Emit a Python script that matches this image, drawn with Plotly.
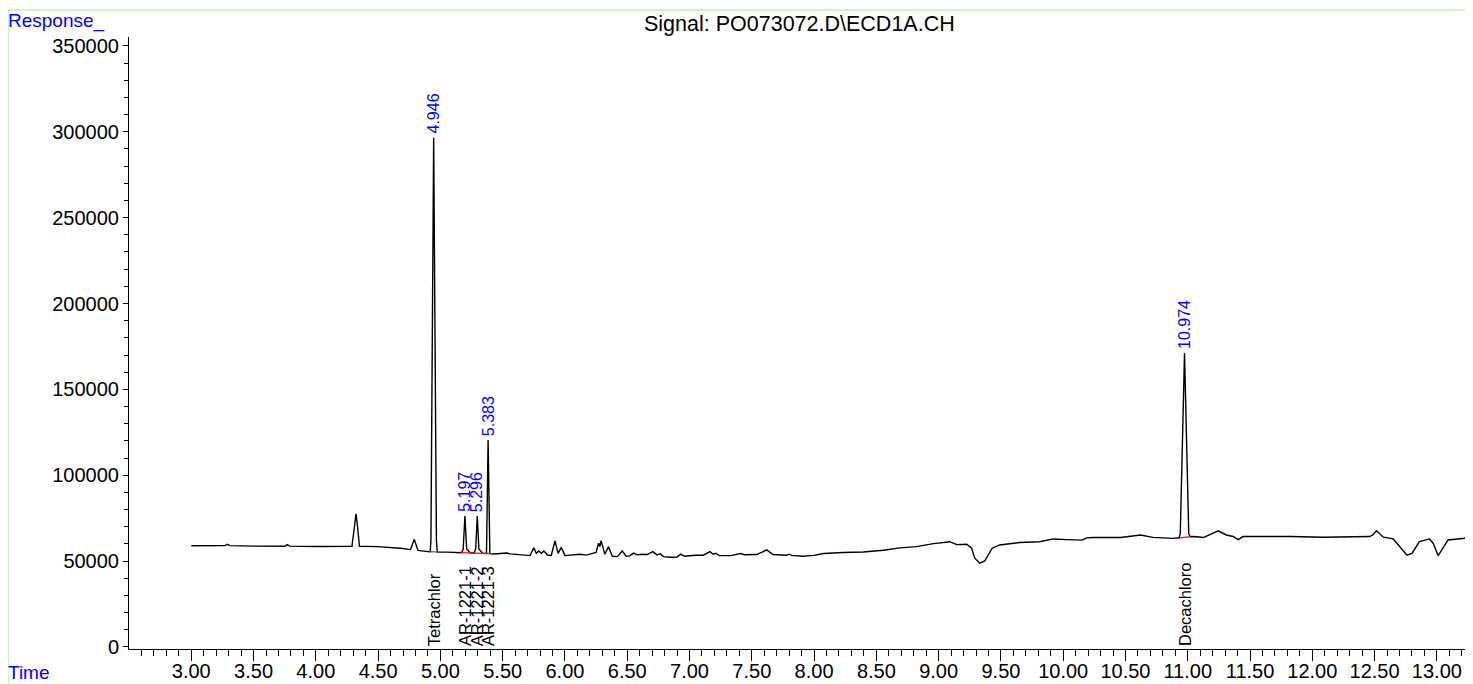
import plotly.graph_objects as go

# ---- signal trace (time in min, response) ----
TIME = [3.00, 3.15, 3.27, 3.29, 3.31, 3.50, 3.65, 3.75, 3.77, 3.79, 4.00, 4.20, 4.29, 4.31, 4.322, 4.335, 4.35,
        4.50, 4.60, 4.70, 4.76, 4.78, 4.79, 4.80, 4.82, 4.90, 4.918, 4.924, 4.946, 4.968, 4.975,
        5.05, 5.13, 5.17, 5.183, 5.197, 5.211, 5.24, 5.27, 5.283, 5.296, 5.309, 5.34, 5.37, 5.383, 5.397,
        5.43, 5.50, 5.53, 5.56, 5.65, 5.72, 5.75, 5.77, 5.79, 5.81, 5.83, 5.86, 5.89, 5.92, 5.945, 5.97,
        6.00, 6.07, 6.12, 6.17, 6.21, 6.25, 6.27, 6.28, 6.29, 6.32, 6.35, 6.38, 6.42, 6.46, 6.49, 6.52,
        6.55, 6.58, 6.62, 6.66, 6.705, 6.74, 6.765, 6.79, 6.85, 6.90, 6.93, 6.96, 7.05, 7.11, 7.165, 7.19,
        7.21, 7.24, 7.33, 7.41, 7.44, 7.54, 7.62, 7.67, 7.78, 7.80, 7.82, 7.91, 8.00, 8.075, 8.235, 8.395,
        8.556, 8.69, 8.82, 8.93, 8.96, 9.09, 9.145, 9.225, 9.265, 9.29, 9.33, 9.37, 9.40, 9.43, 9.49,
        9.65, 9.81, 9.92, 10.03, 10.15, 10.19, 10.24, 10.46, 10.62, 10.72, 10.88, 10.93, 10.94, 10.974,
        11.008, 11.02, 11.05, 11.125, 11.245, 11.31, 11.365, 11.405, 11.445, 11.82, 12.09, 12.46, 12.485,
        12.515, 12.55, 12.57, 12.65, 12.70, 12.76, 12.80, 12.86, 12.94, 12.97, 13.01, 13.05, 13.09, 13.29]
RESPONSE = [58900, 58900, 59000, 59800, 59000, 58700, 58700, 58600, 59600, 58700, 58500, 58700, 58600, 70000, 77500, 70000, 58600,
            58400, 58000, 57300, 56700, 60500, 62700, 60500, 56200, 55500, 55400, 62000, 296500, 62000, 55300,
            55200, 55100, 54900, 57000, 76300, 57000, 54800, 54700, 57000, 76300, 57000, 54500, 54400, 120500, 54300,
            54100, 54300, 54700, 54200, 53700, 53200, 57800, 54500, 55900, 54500, 55900, 53500, 53300, 61700, 54500, 58000,
            53200, 53600, 54000, 53500, 54200, 55000, 60400, 58500, 61900, 54000, 58400, 52800, 52600, 55900, 52800, 53000,
            54600, 53600, 54000, 53800, 55500, 53600, 54300, 52600, 52200, 52300, 54000, 52800, 53400, 53400, 55500, 54000,
            54500, 53200, 53200, 54400, 53700, 53800, 56500, 53800, 53400, 54000, 53300, 52800, 53300, 54400, 55000, 55300,
            56300, 57700, 58400, 59800, 60200, 61300, 59600, 59800, 57500, 51700, 48800, 50100, 53600, 57500, 59400,
            60800, 61300, 62900, 62500, 62200, 63500, 63700, 63700, 65200, 63800, 63200, 63600, 66000, 171200,
            66000, 64200, 64300, 63700, 67600, 65200, 64300, 62500, 64300, 64300, 63900, 64300, 65200,
            67600, 64900, 63900, 62900, 58400, 53400, 54500, 61300, 62900, 60400, 53200, 57500, 62300, 63800]

# ---- integrated peaks ----
PEAK_RT = [4.946, 5.197, 5.296, 5.383, 10.974]
PEAK_HEIGHT = [296500, 76300, 76300, 120500, 171200]
PEAK_LABEL = ["4.946", "5.197", "5.296", "5.383", "10.974"]

COMPOUND_RT = [4.946, 5.197, 5.296, 5.383, 10.974]
COMPOUND_NAME = ["Tetrachlor", "AR-1221-1", "AR-1221-2", "AR-1221-3", "Decachloro"]

# integration baselines (start time, start response, end time, end response)
BASE_T0 = [4.912, 5.160, 10.925]
BASE_Y0 = [55450, 54950, 63400]
BASE_T1 = [4.980, 5.405, 11.020]
BASE_Y1 = [55300, 54300, 64200]

# ---- axes ----
X_TICKS = [3.0, 3.5, 4.0, 4.5, 5.0, 5.5, 6.0, 6.5, 7.0, 7.5, 8.0, 8.5, 9.0, 9.5, 10.0, 10.5,
           11.0, 11.5, 12.0, 12.5, 13.0]
X_TICK_TEXT = ["3.00", "3.50", "4.00", "4.50", "5.00", "5.50", "6.00", "6.50", "7.00", "7.50", "8.00",
               "8.50", "9.00", "9.50", "10.00", "10.50", "11.00", "11.50", "12.00", "12.50", "13.00"]
Y_TICKS = [0, 50000, 100000, 150000, 200000, 250000, 300000, 350000]
Y_TICK_TEXT = ["0", "50000", "100000", "150000", "200000", "250000", "300000", "350000"]

FONT = "Arial, Liberation Sans, sans-serif"
BLUE = "#0000FF"

fig = go.Figure()
fig.add_trace(go.Scatter(x=TIME, y=RESPONSE, mode="lines",
                         line=dict(color="black", width=1.4), hoverinfo="x+y"))
for t0, y0, t1, y1 in zip(BASE_T0, BASE_Y0, BASE_T1, BASE_Y1):
    fig.add_trace(go.Scatter(x=[t0, t1], y=[y0, y1], mode="lines",
                             line=dict(color="red", width=1.2), hoverinfo="skip"))

annotations = []
for rt, h, lab in zip(PEAK_RT, PEAK_HEIGHT, PEAK_LABEL):
    annotations.append(dict(x=rt, y=h, xref="x", yref="y", text=lab, showarrow=False,
                            textangle=-90, xanchor="center", yanchor="bottom", yshift=2,
                            font=dict(family=FONT, size=16, color=BLUE)))
for rt, name in zip(COMPOUND_RT, COMPOUND_NAME):
    annotations.append(dict(x=rt, y=0, xref="x", yref="paper", text=name, showarrow=False,
                            textangle=-90, xanchor="center", yanchor="bottom", yshift=1,
                            font=dict(family=FONT, size=16.5, color="black")))

annotations += [
    dict(x=0.499, y=1.021, xref="paper", yref="paper", text="Signal: PO073072.D\\ECD1A.CH",
         showarrow=False, xanchor="center", yanchor="middle",
         font=dict(family=FONT, size=21.5, color="black")),
    dict(x=-0.0915, y=1.026, xref="paper", yref="paper", text="Response_",
         showarrow=False, xanchor="left", yanchor="middle",
         font=dict(family=FONT, size=19, color=BLUE)),
    dict(x=-0.0915, y=-0.0376, xref="paper", yref="paper", text="Time",
         showarrow=False, xanchor="left", yanchor="middle",
         font=dict(family=FONT, size=19, color=BLUE)),
]

MINOR_X = [round(2.6 + 0.1 * i, 2) for i in range(107)]
MINOR_Y = [10000 * i for i in range(36)]

fig.update_layout(
    width=1465, height=676,
    margin=dict(l=121, r=0, t=29, b=35),
    paper_bgcolor="white", plot_bgcolor="white",
    showlegend=False,
    annotations=annotations,
    font=dict(family=FONT, size=20, color="black"),
    shapes=[dict(type="rect", xref="paper", yref="paper",
                 x0=-121 / 1344, x1=1.2, y0=-0.2, y1=(641 - 2) / 612,
                 line=dict(color="#90EE90", width=1), fillcolor="rgba(0,0,0,0)", layer="below")],
    xaxis=dict(range=[2.5, 13.29], showgrid=False, zeroline=False, showline=True,
               linecolor="black", linewidth=1, ticks="outside", ticklen=11, tickcolor="black",
               tickmode="array", tickvals=X_TICKS, ticktext=X_TICK_TEXT, ticklabelstandoff=-7,
               tickfont=dict(family=FONT, size=20, color="black"),
               minor=dict(tickmode="array", tickvals=MINOR_X, ticks="outside", ticklen=6,
                          tickcolor="black", showgrid=False)),
    yaxis=dict(range=[-1200, 355200], showgrid=False, zeroline=False, showline=True,
               linecolor="black", linewidth=1, ticks="outside", ticklen=5, tickcolor="black",
               tickmode="array", tickvals=Y_TICKS, ticktext=Y_TICK_TEXT,
               tickfont=dict(family=FONT, size=20, color="black"),
               minor=dict(tickmode="array", tickvals=MINOR_Y, ticks="outside", ticklen=4,
                          tickcolor="black", showgrid=False)),
)

fig.write_html("out.html")
